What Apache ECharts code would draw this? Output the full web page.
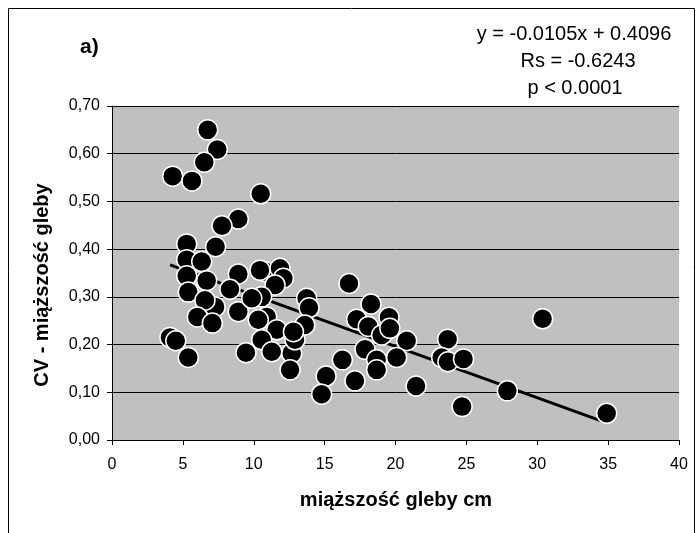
<!DOCTYPE html>
<html><head><meta charset="utf-8">
<script src="https://cdn.jsdelivr.net/npm/echarts@6/dist/echarts.min.js"></script>
<style>html,body{margin:0;padding:0;background:#fff}#c{width:696px;height:533px}</style>
</head><body><div id="c"></div>
<script>
// Soil depth (cm) vs CV of soil depth
const points = [
  [6.75,0.650],[7.43,0.609],[6.51,0.582],[4.28,0.553],[5.64,0.543],[10.49,0.516],
  [8.91,0.463],[7.76,0.449],[5.27,0.411],[7.31,0.405],[5.27,0.378],[6.33,0.374],
  [5.27,0.344],[6.68,0.334],[5.38,0.310],[8.91,0.348],[8.32,0.316],[7.27,0.279],
  [6.56,0.293],[6.02,0.258],[7.08,0.245],[8.91,0.269],[10.79,0.353],[10.44,0.356],
  [11.85,0.360],[12.09,0.339],[11.50,0.325],[10.56,0.300],[9.86,0.297],[10.91,0.258],
  [10.32,0.252],[13.73,0.297],[13.90,0.277],[13.60,0.241],[11.62,0.231],[10.56,0.210],
  [9.45,0.183],[11.27,0.185],[12.68,0.182],[12.56,0.147],[12.91,0.210],[12.80,0.227],
  [4.09,0.215],[4.50,0.208],[5.38,0.173],[16.72,0.328],[18.27,0.285],[17.26,0.253],
  [19.54,0.257],[18.08,0.238],[19.02,0.220],[19.60,0.234],[20.79,0.208],[17.85,0.190],
  [18.67,0.168],[18.67,0.147],[20.08,0.173],[16.25,0.168],[15.10,0.134],[14.79,0.096],
  [17.14,0.124],[21.45,0.113],[23.68,0.211],[23.26,0.173],[23.70,0.164],[24.80,0.170],
  [24.70,0.070],[30.38,0.254],[27.89,0.103],[34.90,0.056]
];
const trendLine = [[4.1,0.367],[34.9,0.036]];
const statLines = ['y = -0.0105x + 0.4096','Rs = -0.6243','p < 0.0001'];
const panelLabel = 'a)';
const xTitle = 'miąższość gleby cm';
const yTitle = 'CV - miąższość gleby';

const chart = echarts.init(document.getElementById('c'));
const F = 'Liberation Sans, Arial, sans-serif';
chart.setOption({
  animation:false,
  backgroundColor:'#fff',
  grid:{left:112,right:17,top:106,bottom:93,show:true,backgroundColor:'#c0c0c0',borderWidth:0},
  xAxis:{type:'value',min:0,max:40,interval:5,
    axisLine:{lineStyle:{color:'#000',width:1}},
    axisTick:{show:true,length:5,lineStyle:{color:'#000'}},
    axisLabel:{fontFamily:F,fontSize:16,color:'#000',margin:17},
    splitLine:{show:false}},
  yAxis:{type:'value',min:0,max:0.7,interval:0.1,
    axisLine:{show:true,lineStyle:{color:'#000',width:1}},
    axisTick:{show:true,length:5,lineStyle:{color:'#000'}},
    axisLabel:{fontFamily:F,fontSize:16,color:'#000',margin:12,
      formatter:v=>v.toFixed(2).replace('.',',')},
    splitLine:{show:true,lineStyle:{color:'#000',width:1}}},
  graphic:[
    {type:'rect',shape:{x:8.5,y:8.5,width:686,height:540},style:{fill:null,stroke:'#000',lineWidth:1},silent:true},
    {type:'text',x:80,y:47,style:{text:panelLabel,font:'bold 21px '+F,fill:'#000',verticalAlign:'middle'}},
    {type:'text',x:574,y:34,style:{text:statLines[0],font:'20px '+F,fill:'#000',align:'center',verticalAlign:'middle'}},
    {type:'text',x:578,y:61,style:{text:statLines[1],font:'20px '+F,fill:'#000',align:'center',verticalAlign:'middle'}},
    {type:'text',x:575,y:88,style:{text:statLines[2],font:'20px '+F,fill:'#000',align:'center',verticalAlign:'middle'}},
    {type:'text',x:396,y:500,style:{text:xTitle,font:'bold 20px '+F,fill:'#000',align:'center',verticalAlign:'middle'}},
    {type:'text',x:42,y:285,rotation:Math.PI/2,style:{text:yTitle,font:'bold 20px '+F,fill:'#000',align:'center',verticalAlign:'middle'}}
  ],
  series:[
    {type:'line',data:trendLine,showSymbol:false,symbol:'none',z:2,
      lineStyle:{color:'#000',width:3}},
    {type:'scatter',data:points,symbol:'circle',symbolSize:20,z:3,
      itemStyle:{color:'#000',borderColor:'#fff',borderWidth:1.5,opacity:1}}
  ]
});
</script></body></html>
